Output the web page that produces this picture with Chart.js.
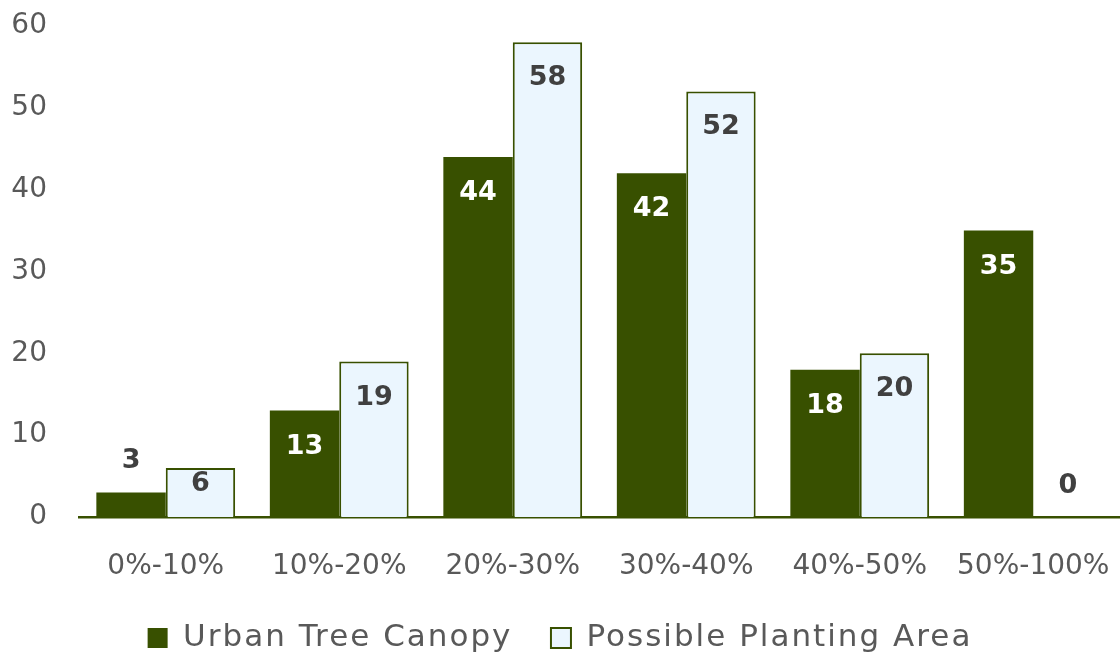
<!DOCTYPE html>
<html>
<head>
<meta charset="utf-8">
<script src="https://cdn.jsdelivr.net/npm/chart.js@4"></script>
<style>
  html, body { margin: 0; padding: 0; background: #fff; }
  #wrap { width: 1120px; height: 656px; }
</style>
</head>
<body>
<div id="wrap"><canvas id="main-chart" width="1120" height="656"></canvas></div>
<script>
const categories = ["0%-10%", "10%-20%", "20%-30%", "30%-40%", "40%-50%", "50%-100%"];
const canopy = [3, 13, 44, 42, 18, 35];
const planting = [6, 19, 58, 52, 20, 0];
const seriesNames = ["Urban Tree Canopy", "Possible Planting Area"];

const green = "#385000";
const lightBlue = "#ebf6fe";
const font = "'DejaVu Sans', sans-serif";

// value labels, inside the bar top when it fits, above it otherwise
const valueLabels = {
  id: "valueLabels",
  afterDatasetsDraw(chart) {
    const c = chart.ctx;
    c.save();
    c.font = "bold 27px " + font;
    c.textAlign = "center";
    c.textBaseline = "middle";
    chart.data.datasets.forEach((ds, i) => {
      chart.getDatasetMeta(i).data.forEach((bar, j) => {
        const h = bar.base - bar.y;
        let y, color;
        if (h < 40) {
          y = bar.y - 31;
          color = "#404040";
        } else {
          y = bar.y + Math.min(36, h / 2 - 8);
          color = i === 0 ? "#ffffff" : "#404040";
        }
        c.fillStyle = color;
        c.fillText(ds.data[j], bar.x, y);
      });
    });
    c.restore();
  }
};

// wider legend text (the original font is much wider than DejaVu)
const legendSpacing = {
  id: "legendSpacing",
  beforeLayout(chart) { chart.ctx.letterSpacing = "2px"; },
  afterLayout(chart) { chart.ctx.letterSpacing = "0px"; },
  beforeDraw(chart) { chart.ctx.letterSpacing = "2px"; },
  beforeDatasetsDraw(chart) { chart.ctx.letterSpacing = "0px"; },
};

const ctx = document.getElementById("main-chart").getContext("2d");
new Chart(ctx, {
  type: "bar",
  data: {
    labels: categories,
    datasets: [
      {
        label: seriesNames[0],
        data: canopy,
        backgroundColor: green,
        borderColor: green,
        borderWidth: 0,
      },
      {
        label: seriesNames[1],
        data: planting,
        backgroundColor: lightBlue,
        borderColor: green,
        borderWidth: 2,
      },
    ],
  },
  options: {
    responsive: false,
    animation: false,
    layout: { padding: { top: 26, right: 0, left: 0, bottom: -7.5 } },
    datasets: {
      bar: { categoryPercentage: 0.8, barPercentage: 1.0 },
    },
    scales: {
      x: {
        afterFit: (scale) => {
          scale.height = 67;
          scale.paddingLeft = 0;
          scale.paddingRight = 0;
        },
        grid: { display: false, drawTicks: false },
        border: { color: green, width: 2.5 },
        ticks: {
          z: 1,
          color: "#595959",
          font: { family: font, size: 28 },
          padding: 33,
          maxRotation: 0,
        },
      },
      y: {
        min: 0,
        max: 60,
        afterFit: (scale) => {
          scale.width = 79;
          scale.paddingTop = 0;
          scale.paddingBottom = 0;
        },
        grid: { display: false, drawTicks: false },
        border: { display: false },
        ticks: {
          z: 1,
          stepSize: 10,
          color: "#595959",
          font: { family: font, size: 28 },
          padding: 32,
        },
      },
    },
    plugins: {
      legend: {
        position: "bottom",
        labels: {
          color: "#595959",
          font: { family: font, size: 31 },
          boxWidth: 20,
          boxHeight: 20,
          padding: 38.5,
          useBorderRadius: false,
        },
      },
      tooltip: { enabled: false },
    },
  },
  plugins: [valueLabels, legendSpacing],
});
</script>
</body>
</html>
